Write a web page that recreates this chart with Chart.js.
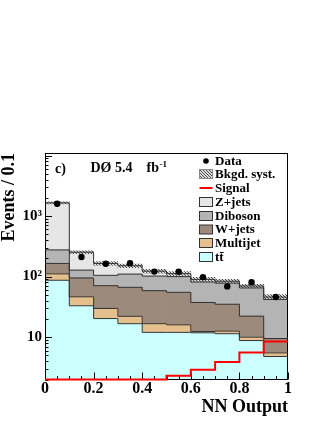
<!DOCTYPE html>
<html><head><meta charset="utf-8">
<script src="https://cdn.jsdelivr.net/npm/chart.js@4.4.0/dist/chart.umd.min.js"></script>
<style>html,body{margin:0;padding:0;background:#fff;}#wrap{width:327px;height:423px;position:relative;}</style>
</head><body><div id="wrap"><canvas id="c"></canvas></div>
<script>
// ---- data ----
const binEdges   = [0, 0.1, 0.2, 0.3, 0.4, 0.5, 0.6, 0.7, 0.8, 0.9, 1.0];
const binCenters = [0.05, 0.15, 0.25, 0.35, 0.45, 0.55, 0.65, 0.75, 0.85, 0.95];
const ttbar    = [87, 33, 20.3, 16.7, 12.0, 12.0, 11.8, 11.4, 8.8, 4.8];
const multijet = [24, 13.4, 9.5, 5.4, 4.7, 4.0, 0.6, 1.2, 1.2, 0.7];
const wjets    = [54, 48.6, 41, 44.5, 41.9, 39, 25, 22.4, 12.2, 4];
const diboson  = [111, 33, 34.2, 43.4, 43.4, 45, 44, 43, 42.8, 32.5];
const zjets    = [1374, 125, 60, 41, 21, 12, 8.6, 6, 5, 4];
const signal   = [1.0, 1.2, 1.4, 1.6, 1.9, 2.3, 2.9, 3.9, 5.6, 8.5];
const observed = [1600, 211, 163, 167, 121, 120, 98, 69, 81, 46];
const systRel  = [0.04, 0.05, 0.07, 0.07, 0.07, 0.08, 0.08, 0.07, 0.07, 0.1];
const xTickLabels = ['0', '0.2', '0.4', '0.6', '0.8', '1'];
const yTickLabels = {10: '10', 100: '10\u00B2', 1000: '10\u00B3'};
const yMin = 2, yMax = 11000;

const FONT = '"Liberation Serif", "Times New Roman", serif';

function makeHatch(bg, fg){
  const c = document.createElement('canvas'); c.width = 3; c.height = 3;
  const g = c.getContext('2d');
  g.fillStyle = bg; g.fillRect(0,0,3,3);
  g.fillStyle = fg; for (let i=0;i<3;i++) g.fillRect(i,i,1,1);
  return g.createPattern(c,'repeat');
}
const hatch = makeHatch('#dcdcdc', '#4a4a4a');

const comps = [
  {label:'t\u0074\u0304', data: ttbar,    color:'#ccffff'},
  {label:'Multijet',      data: multijet, color:'#e5c08e'},
  {label:'W+jets',        data: wjets,    color:'#9c8a7c'},
  {label:'Diboson',       data: diboson,  color:'#b4b4b4'},
  {label:'Z+jets',        data: zjets,    color:'#e6e6e6'}
];

const datasets = [];
comps.forEach(c => datasets.push({
  type:'bar', label:c.label, data:c.data.map((v,i)=>({x:binCenters[i], y:v})),
  backgroundColor:c.color, borderWidth:0, yAxisID:'y', order:10,
  barPercentage:1, categoryPercentage:1
}));
let cum = new Array(binCenters.length).fill(0);
comps.forEach(c => {
  cum = cum.map((s,i)=>s + c.data[i]);
  const snap = cum.slice();
  datasets.push({
    type:'line', label:c.label+' outline',
    data: binEdges.map((x,i)=>({x, y: snap[Math.min(i, snap.length-1)]})),
    borderColor:'#333', borderWidth:1, pointRadius:0, stepped:true, fill:false,
    yAxisID:'y2', order:5
  });
});
const total = cum;
datasets.push({
  type:'bar', label:'Bkgd. syst.',
  data: binCenters.map((x,i)=>({x, y:[total[i]*(1-systRel[i]), total[i]*(1+systRel[i])]})),
  backgroundColor: hatch, borderWidth:0, grouped:false, yAxisID:'y2', order:8,
  barPercentage:1, categoryPercentage:1
});
datasets.push({
  type:'line', label:'Signal',
  data: binEdges.map((x,i)=>({x, y: Math.max(yMin, signal[Math.min(i, signal.length-1)])})),
  borderColor:'#ff0000', borderWidth:2, pointRadius:0, stepped:true, fill:false,
  yAxisID:'y2', order:2, clip:false
});
datasets.push({
  type:'line', label:'Data', showLine:false,
  data: binCenters.map((x,i)=>({x, y: observed[i]})),
  pointRadius:3.2, pointBackgroundColor:'#000', pointBorderWidth:0, pointBorderColor:'#000',
  yAxisID:'y2', order:1
});

const legendItems = [
  {kind:'dot',  text:'Data',        y:161},
  {kind:'hatch',text:'Bkgd. syst.', y:174},
  {kind:'line', text:'Signal',      y:188, color:'#ff0000'},
  {kind:'box',  text:'Z+jets',      y:202, color:'#e6e6e6'},
  {kind:'box',  text:'Diboson',     y:216, color:'#b4b4b4'},
  {kind:'box',  text:'W+jets',      y:229.5, color:'#9c8a7c'},
  {kind:'box',  text:'Multijet',    y:243, color:'#e5c08e'},
  {kind:'box',  text:'t\u0074\u0304', y:257, color:'#ccffff'}
];

function drawFrame(chart){
  const ctx = chart.ctx;
  const {left,right,top,bottom} = chart.chartArea;
  const xs = chart.scales.x, ys = chart.scales.y;
  ctx.save();
  ctx.strokeStyle = '#000'; ctx.lineWidth = 1;
  ctx.beginPath();
  for (let k=0;k<=20;k++){
    const px = Math.round(xs.getPixelForValue(k*0.05)) + 0.5;
    const len = (k%4===0) ? 7 : 3.5;
    ctx.moveTo(px, bottom); ctx.lineTo(px, bottom-len);
  }
  for (let d=0; d<=4; d++){
    for (let m=1; m<=9; m++){
      const v = m*Math.pow(10,d);
      if (v < yMin || v > yMax) continue;
      const py = Math.round(ys.getPixelForValue(v)) + 0.5;
      const len = (m===1) ? 7 : 3.5;
      ctx.moveTo(left, py); ctx.lineTo(left+len, py);
    }
  }
  ctx.stroke();
  ctx.strokeRect(Math.round(left)+0.5, Math.round(top)+0.5, Math.round(right-left)-1, Math.round(bottom-top)-1);
  ctx.restore();
}

const decor = {
  id:'decor',
  afterDatasetDraw(chart, args){
    if (chart.data.datasets[args.index].label === 'Z+jets outline') drawFrame(chart);
  },
  afterDraw(chart){
    const ctx = chart.ctx;
    ctx.save();
    ctx.fillStyle = '#000';
    ctx.textBaseline = 'alphabetic';
    ctx.font = 'bold 14px ' + FONT;
    ctx.fillText('c)', 55, 172.5);
    ctx.fillText('D\u00D8', 90.5, 172);
    ctx.fillText('5.4', 115, 172);
    ctx.textAlign = 'right';
    ctx.fillText('fb', 159, 172);
    ctx.textAlign = 'left';
    ctx.font = 'bold 9px ' + FONT;
    ctx.fillText('-1', 159.5, 167);

    ctx.font = 'bold 13px ' + FONT;
    ctx.textBaseline = 'middle';
    legendItems.forEach(it => {
      const bx = 199.5, bw = 13, bh = 9;
      if (it.kind === 'dot'){
        ctx.beginPath(); ctx.arc(206, it.y, 2.8, 0, Math.PI*2); ctx.fillStyle='#000'; ctx.fill();
      } else if (it.kind === 'line'){
        ctx.beginPath(); ctx.moveTo(bx, it.y); ctx.lineTo(bx+bw, it.y);
        ctx.strokeStyle = it.color; ctx.lineWidth = 2; ctx.stroke();
      } else {
        ctx.fillStyle = it.kind === 'hatch' ? hatch : it.color;
        ctx.fillRect(bx, it.y - bh/2, bw, bh);
        ctx.strokeStyle = it.kind === 'hatch' ? '#888' : '#333'; ctx.lineWidth = 1;
        ctx.strokeRect(bx, it.y - bh/2, bw, bh);
      }
      ctx.fillStyle = '#000';
      ctx.fillText(it.text, 215, it.y + 0.5);
    });
    ctx.restore();
  }
};

new Chart(document.getElementById('c'), {
  type:'bar',
  data:{datasets},
  plugins:[decor],
  options:{
    responsive:true, maintainAspectRatio:false, animation:false,
    layout:{padding:{top:153, right:39, left:0, bottom:0}},
    plugins:{legend:{display:false}, tooltip:{enabled:false}},
    scales:{
      x:{type:'linear', min:0, max:1, offset:false, stacked:true,
         grid:{display:false, drawTicks:false}, border:{display:false},
         ticks:{stepSize:0.2, maxRotation:0, autoSkip:false, padding:0, color:'#000',
                font:{family:FONT, size:16, weight:'bold'},
                callback:(v,i)=>xTickLabels[i]},
         title:{display:true, text:'NN Output', align:'end', color:'#000',
                font:{family:FONT, size:18, weight:'bold', lineHeight:1}, padding:{top:0, bottom:7}},
         afterFit:(s)=>{ s.height = 43.5; }},
      y:{type:'logarithmic', min:yMin, max:yMax, stacked:true,
         grid:{display:false, drawTicks:false}, border:{display:false},
         ticks:{autoSkip:false, padding:3, color:'#000',
                font:{family:FONT, size:15, weight:'bold'},
                callback:(v)=> (yTickLabels[v] !== undefined ? yTickLabels[v] : '')},
         title:{display:true, text:'Events / 0.1', align:'end', color:'#000',
                font:{family:FONT, size:18, weight:'bold', lineHeight:1}, padding:{top:0, bottom:0}},
         afterFit:(s)=>{ s.width = 45; }},
      y2:{type:'logarithmic', min:yMin, max:yMax, display:false}
    }
  }
});
</script></body></html>
